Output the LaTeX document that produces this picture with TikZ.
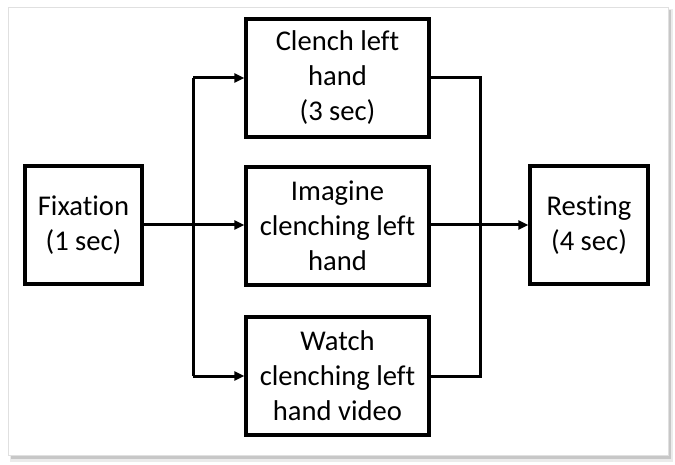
\documentclass[tikz,border=0pt]{standalone}
\usepackage{fontspec}
\setmainfont{Carlito}[Ligatures=NoCommon]
\usetikzlibrary{arrows.meta}
\begin{document}
\begin{tikzpicture}[x=1pt,y=-1pt,
  stepbox/.style={draw=black,line width=3.2pt,align=center,inner sep=0pt,
    font=\fontsize{28.6}{35}\selectfont,minimum height=118pt},
  conn/.style={line width=3pt,black},
  arr/.style={conn,-{Triangle[length=10pt,width=9pt]}}]
\useasboundingbox (0,0) rectangle (675,465);
\fill[white] (0,0) rectangle (675,465);
% frame with shadow
\fill[black!8] (10,9) rectangle (673,462);
\fill[black!22] (11,10) rectangle (671,459);
\filldraw[fill=white,draw=black!12,line width=0.6pt] (8,7) rectangle (668,455);
% nodes
\node[stepbox,minimum width=117pt] (fix) at (83.5,225) {Fixation\\(1 sec)};
\node[stepbox,minimum width=183pt] (top) at (337.5,78) {Clench left\\hand\\(3 sec)};
\node[stepbox,minimum width=183pt] (mid) at (337.5,226) {Imagine\\clenching left\\hand};
\node[stepbox,minimum width=183pt] (bot) at (337.5,376) {Watch\\clenching left\\hand video};
\node[stepbox,minimum width=118pt] (rest) at (589,225) {Resting\\(4 sec)};
% trunk coordinates
\coordinate (lt) at (193,78);
\coordinate (lb) at (193,376);
\coordinate (rt) at (480,78);
\coordinate (rb) at (480,376);
% connectors
\draw[conn] (lb) -- (lt);
\draw[arr] (lt) -- (top.west);
\draw[arr] (lb) -- (bot.west);
\draw[arr] (fix.east) -- (mid.west |- fix.east);
\draw[conn,line join=miter] (top.east) -- (rt) -- (rb) -- (bot.east);
\draw[arr] (mid.east |- rest.west) -- (rest.west);
\end{tikzpicture}
\end{document}
